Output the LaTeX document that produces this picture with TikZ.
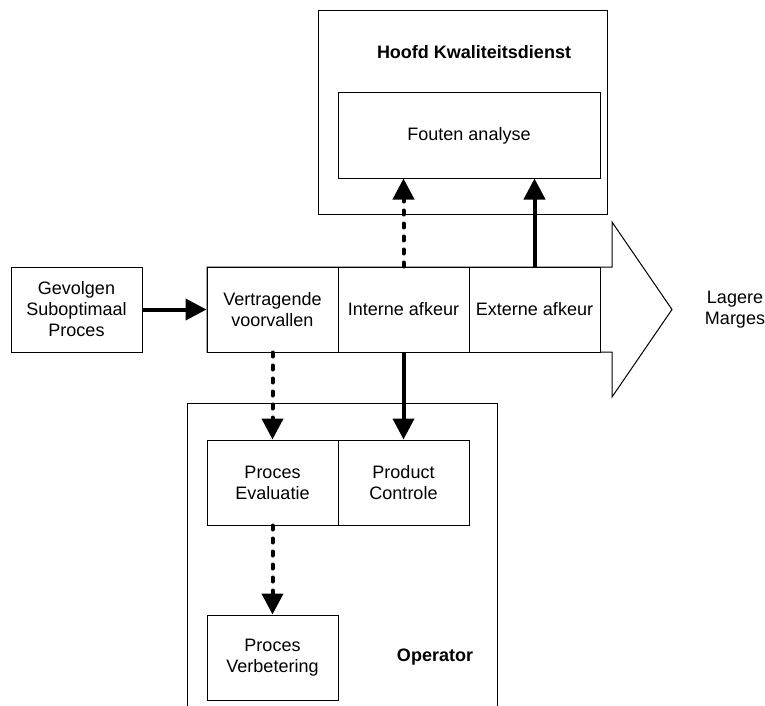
\documentclass[tikz,border=0pt]{standalone}
\usepackage{fontspec}
\setmainfont{Liberation Sans}
\usetikzlibrary{arrows.meta}

\begin{document}
\begin{tikzpicture}[x=0.5pt, y=-0.5pt,
	every node/.style={font=\fontsize{9}{10.5}\selectfont, align=center},
	blok/.style={draw, line width=0.5pt, minimum width=65.5pt, minimum height=42.5pt, inner sep=0pt, fill=white},
	pijl/.style={line width=2pt, -{Triangle[length=10.5pt, width=10.5pt]}},
	stippel/.style={pijl, dash pattern=on 2pt off 4.5pt, line cap=round}]
	\useasboundingbox (0,0) rectangle (765,706);

	% grote pijl naar de marges
	\draw[line width=0.5pt] (207,267) -- (612,267) -- (612,222) -- (672,309.5) -- (612,397) -- (612,352) -- (207,352) -- cycle;
	\node (marges) at (735,309.5) {Lagere\\Marges};

	% hoofd kwaliteitsdienst
	\node[draw, line width=0.5pt, minimum width=144.5pt, minimum height=101.5pt] (hoofd) at (462.5,112.5) {};
	\node (hoofdlabel) at (474,52) {\bfseries Hoofd Kwaliteitsdienst};
	\node[blok, minimum width=131pt] (fouten) at (469,135.5) {Fouten analyse};

	% operator
	\draw[line width=0.5pt] (187,706) -- (187,403) -- (497,403) -- (497,706);
	\node (operator) at (435,657) {\bfseries Operator};

	\node[blok] (gevolgen) at (76.5,309.5) {Gevolgen\\Suboptimaal\\Proces};
	\node[blok] (vertragende) at (272.5,309.5) {Vertragende\\voorvallen};
	\node[blok] (interne) at (403.5,309.5) {Interne afkeur};
	\node[blok] (externe) at (534.5,309.5) {Externe afkeur};

	\node[blok] (evaluatie) at (272.5,482.5) {Proces\\Evaluatie};
	\node[blok] (controle) at (403.5,482.5) {Product\\Controle};
	\node[blok] (verbetering) at (272.5,657.5) {Proces\\Verbetering};

	\draw[pijl] (gevolgen) -- (vertragende);
	\draw[stippel] (interne.north) -- (interne.north |- fouten.south);
	\draw[pijl] (externe.north) -- (externe.north |- fouten.south);
	\draw[stippel] (vertragende.south) -- (evaluatie.north);
	\draw[pijl] (interne.south) -- (controle.north);
	\draw[stippel] (evaluatie.south) -- (verbetering.north);
\end{tikzpicture}
\end{document}
